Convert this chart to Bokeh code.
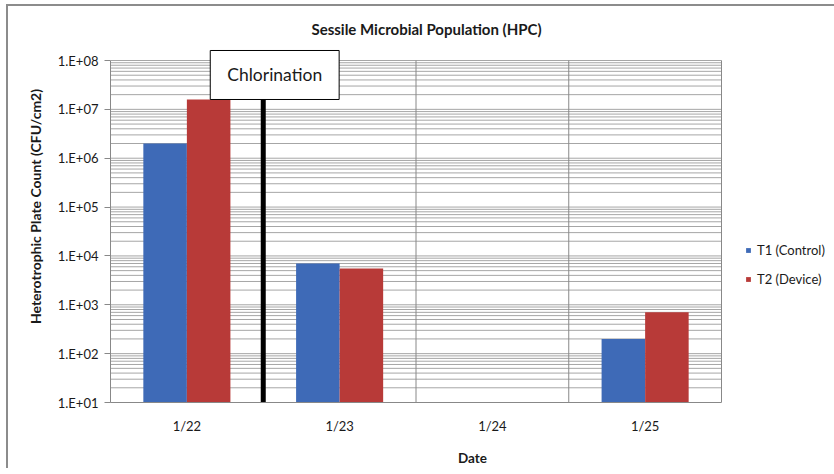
import numpy as np
from bokeh.plotting import figure
from bokeh.models import (Range1d, FixedTicker, CustomJSTickFormatter, Label,
                          Legend, LegendItem, ColumnDataSource)
from bokeh.embed import file_html
from bokeh.resources import INLINE

# ---- data ----
dates = ["1/22", "1/23", "1/24", "1/25"]
t1_control = [2.0e6, 7.0e3, None, 2.0e2]
t2_device = [1.6e7, 5.5e3, None, 7.0e2]
series_names = ["T1 (Control)", "T2 (Device)"]
y_ticks = [1e1, 1e2, 1e3, 1e4, 1e5, 1e6, 1e7, 1e8]
y_tick_labels = ["1.E+01", "1.E+02", "1.E+03", "1.E+04", "1.E+05", "1.E+06", "1.E+07", "1.E+08"]
title_text = "Sessile Microbial Population (HPC)"
chlorination_after = "1/22"
chlorination_text = "Chlorination"

FONT = "Lato"
BLUE = "#3E6AB7"
RED = "#B83A38"
GRID = "#a6a6a6"
VGRID = "#888888"
TXT = "#1a1a1a"

n = len(dates)
centers = np.arange(n) + 0.5
bar_w = 0.285

# layout constants (pixels)
W, H = 834, 468
FL, FR, FT, FB = 110, 834, 10, 402          # frame edges
PLOT_R, PLOT_T = 721, 60                    # chart-area right edge / top (1e8)
TITLE_X, TITLE_Y = 426, 28
cat_px = (PLOT_R - FL) / n
dec_px = (FB - PLOT_T) / np.log10(y_ticks[-1] / y_ticks[0])
x_end = n + (FR - PLOT_R) / cat_px
y_end = y_ticks[-1] * 10 ** ((PLOT_T - FT) / dec_px)

p = figure(width=W, height=H, output_backend="svg", toolbar_location=None,
           x_range=Range1d(0, x_end), y_range=Range1d(y_ticks[0], y_end),
           y_axis_type="log",
           min_border_left=FL, min_border_right=W - FR, min_border_top=FT,
           min_border_bottom=H - FB)
p.outline_line_color = None
p.background_fill_color = "white"
p.border_fill_color = None
p.styles = {
    "background-color": "white",
    "background-image": "linear-gradient(#8c8c8c, #8c8c8c), linear-gradient(#8c8c8c, #8c8c8c)",
    "background-position": "6px 4px, 6px 4px",
    "background-size": "100% 2px, 2px 100%",
    "background-repeat": "no-repeat, no-repeat",
}
p.xgrid.visible = False
p.ygrid.visible = False

# gridlines limited to the chart area
minor = [m * t for t in y_ticks[:-1] for m in range(2, 10)]
hl = sorted(minor + y_ticks)
p.segment(x0=[0] * len(hl), x1=[n] * len(hl), y0=hl, y1=hl, line_color=GRID, line_width=1)
vl = list(range(1, n + 1))
p.segment(x0=vl, x1=vl, y0=[y_ticks[0]] * len(vl), y1=[y_ticks[-1]] * len(vl),
          line_color=VGRID, line_width=1)

def src(vals, offset):
    xs, tops = [], []
    for c, v in zip(centers, vals):
        if v is not None:
            xs.append(c + offset)
            tops.append(v)
    return ColumnDataSource(dict(x=xs, top=tops, bottom=[y_ticks[0]] * len(xs)))

r1 = p.vbar(x="x", top="top", bottom="bottom", width=bar_w, source=src(t1_control, -bar_w / 2),
            fill_color=BLUE, line_color=None)
r2 = p.vbar(x="x", top="top", bottom="bottom", width=bar_w, source=src(t2_device, bar_w / 2),
            fill_color=RED, line_color=None)

# chlorination marker line at the boundary after its date
cx = dates.index(chlorination_after) + 1
p.segment(x0=[cx], x1=[cx], y0=[y_ticks[0]], y1=[y_ticks[-1]], line_color="black", line_width=5)

lab = Label(x=cx + 0.075, y=5.05e7, text=chlorination_text, text_font=FONT,
            text_font_size="17.5px", text_align="center", text_baseline="middle",
            text_color=TXT,
            border_line_color="black", border_line_width=1,
            background_fill_color="white", padding=dict(left=17, right=17, top=14, bottom=14))
p.add_layout(lab)

# chart title
p.add_layout(Label(x=(TITLE_X - FL) / cat_px, y=y_ticks[-1] * 10 ** ((PLOT_T - TITLE_Y) / dec_px),
                   text=title_text, text_font=FONT, text_font_size="15px",
                   text_font_style="bold", text_color=TXT, text_align="center",
                   text_baseline="middle"))

legend = Legend(items=[LegendItem(label=series_names[0], renderers=[r1]),
                       LegendItem(label=series_names[1], renderers=[r2])],
                location=(635, 115), orientation="vertical",
                glyph_width=6, glyph_height=6, label_standoff=6,
                label_height=16, spacing=13, padding=0, margin=0,
                label_text_font=FONT, label_text_font_size="13px",
                label_text_color=TXT,
                border_line_color=None, background_fill_alpha=0)
p.add_layout(legend)

# axes
p.yaxis.bounds = (y_ticks[0], y_ticks[-1])
p.yaxis.ticker = FixedTicker(ticks=y_ticks, minor_ticks=minor)
p.yaxis.formatter = CustomJSTickFormatter(args=dict(tvals=y_ticks, tlabels=y_tick_labels), code="""
const i = tvals.findIndex(t => Math.abs(Math.log10(t) - Math.log10(tick)) < 1e-6);
return i >= 0 ? tlabels[i] : "";
""")
p.yaxis.axis_label = "Heterotrophic Plate Count (CFU/cm2)"
p.yaxis.axis_label_text_font = FONT
p.yaxis.axis_label_text_font_style = "bold"
p.yaxis.axis_label_text_font_size = "14px"
p.yaxis.axis_label_text_color = TXT
p.yaxis.axis_label_standoff = 11
p.yaxis.major_label_text_font = FONT
p.yaxis.major_label_text_font_size = "13px"
p.yaxis.major_label_text_color = TXT
p.yaxis.major_label_standoff = 6
p.yaxis.major_tick_out = 6
p.yaxis.major_tick_in = 0
p.yaxis.minor_tick_out = 0
p.yaxis.minor_tick_in = 0
p.yaxis.axis_line_color = "#888888"
p.yaxis.major_tick_line_color = "#888888"

p.xaxis.bounds = (0, n)
p.xaxis.ticker = FixedTicker(ticks=list(centers))
p.xaxis.major_label_overrides = {float(c): d for c, d in zip(centers, dates)}
p.xaxis.axis_label = "Date"
p.xaxis.axis_label_text_font = FONT
p.xaxis.axis_label_text_font_style = "bold"
p.xaxis.axis_label_text_font_size = "13.5px"
p.xaxis.axis_label_text_color = TXT
p.xaxis.axis_label_standoff = 13
p.xaxis.major_label_text_font = FONT
p.xaxis.major_label_text_font_size = "13px"
p.xaxis.major_label_text_color = TXT
p.xaxis.major_label_standoff = 15
p.xaxis.major_tick_out = 0
p.xaxis.major_tick_in = 0
p.xaxis.axis_line_color = "#888888"

open("out.html", "w").write(file_html(p, INLINE))
